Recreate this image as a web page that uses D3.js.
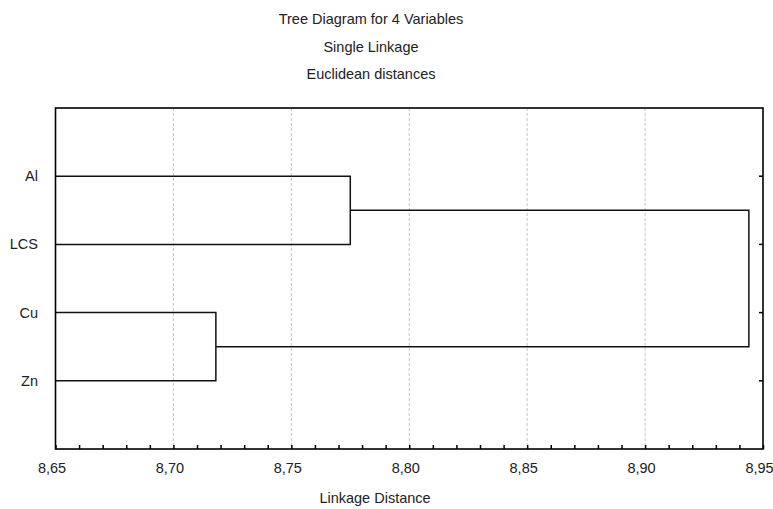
<!DOCTYPE html>
<html><head><meta charset="utf-8">
<script src="https://cdn.jsdelivr.net/npm/d3@7"></script>
<style>
html,body{margin:0;padding:0;background:#fff;}
svg text{font-family:"Liberation Sans",Arial,sans-serif;fill:#222;}
</style></head>
<body>
<svg id="c" width="773" height="509"></svg>
<script>
const titleLines = ["Tree Diagram for 4 Variables", "Single Linkage", "Euclidean distances"];
const xLabel = "Linkage Distance";
const leaves = ["Al", "LCS", "Cu", "Zn"];
// merges: two children joined at a linkage distance
const mergeA = ["Al", "Cu", "Al+LCS"];
const mergeB = ["LCS", "Zn", "Cu+Zn"];
const mergeName = ["Al+LCS", "Cu+Zn", "All"];
const mergeDist = [8.775, 8.718, 8.944];
const xTicks = [8.65, 8.70, 8.75, 8.80, 8.85, 8.90, 8.95];
const xTickLabels = ["8,65", "8,70", "8,75", "8,80", "8,85", "8,90", "8,95"];
const xMinor = d3.range(0, 31).map(i => 8.65 + i * 0.01);

const svg = d3.select("#c");
const L = 55.5, R = 763, T = 108, B = 449;
const x = d3.scaleLinear().domain([8.65, 8.95]).range([L, R]);
const y = d3.scaleLinear().domain([0, leaves.length + 1]).range([T, B]);
const fs = "14.5px";

// titles
const titleY = [24, 52, 79];
svg.selectAll("text.title").data(titleLines).enter().append("text")
  .attr("class", "title").attr("x", 371).attr("y", (d, i) => titleY[i])
  .attr("text-anchor", "middle").style("font-size", fs)
  .text(d => d);

// gridlines
svg.append("g").selectAll("line").data(xTicks.slice(1, -1)).enter().append("line")
  .attr("x1", d => x(d)).attr("x2", d => x(d)).attr("y1", T).attr("y2", B)
  .attr("stroke", "#c4c4c4").attr("stroke-width", 1).attr("stroke-dasharray", "3,2");

// bottom axis (ticks inward)
const xAxis = d3.axisBottom(x).tickValues(xMinor).tickSize(-4).tickFormat("");
svg.append("g").attr("transform", `translate(0,${B})`).call(xAxis)
  .call(g => g.select(".domain").remove())
  .call(g => g.selectAll(".tick line").attr("stroke", "#000").attr("stroke-width", 1.5));

svg.append("g").selectAll("text").data(xTicks).enter().append("text")
  .attr("x", d => x(d) - 3.5).attr("y", 473).attr("text-anchor", "middle")
  .style("font-size", fs)
  .text((d, i) => xTickLabels[i]);

svg.append("text").attr("x", 375).attr("y", 503).attr("text-anchor", "middle")
  .style("font-size", fs).text(xLabel);

// leaf labels
svg.append("g").selectAll("text").data(leaves).enter().append("text")
  .attr("x", 38).attr("y", (d, i) => y(i + 1) + 5).attr("text-anchor", "end")
  .style("font-size", fs).text(d => d);

// right axis ticks at leaves (inward)
svg.append("g").selectAll("line").data(leaves).enter().append("line")
  .attr("x1", R - 4).attr("x2", R).attr("y1", (d, i) => y(i + 1)).attr("y2", (d, i) => y(i + 1))
  .attr("stroke", "#000").attr("stroke-width", 1.5);

// dendrogram
const nodes = {};
leaves.forEach((n, i) => nodes[n] = {x: x.domain()[0], y: i + 1});
const path = d3.path();
mergeName.forEach((n, i) => {
  const a = nodes[mergeA[i]], b = nodes[mergeB[i]], d = mergeDist[i];
  path.moveTo(x(a.x), y(a.y)); path.lineTo(x(d), y(a.y)); path.lineTo(x(d), y(b.y)); path.lineTo(x(b.x), y(b.y));
  nodes[n] = {x: d, y: (a.y + b.y) / 2};
});
svg.append("path").attr("d", path.toString()).attr("fill", "none")
  .attr("stroke", "#111").attr("stroke-width", 1.5);

// frame
svg.append("rect").attr("x", L).attr("y", T).attr("width", R - L).attr("height", B - T)
  .attr("fill", "none").attr("stroke", "#000").attr("stroke-width", 1.6);
</script>
</body></html>
